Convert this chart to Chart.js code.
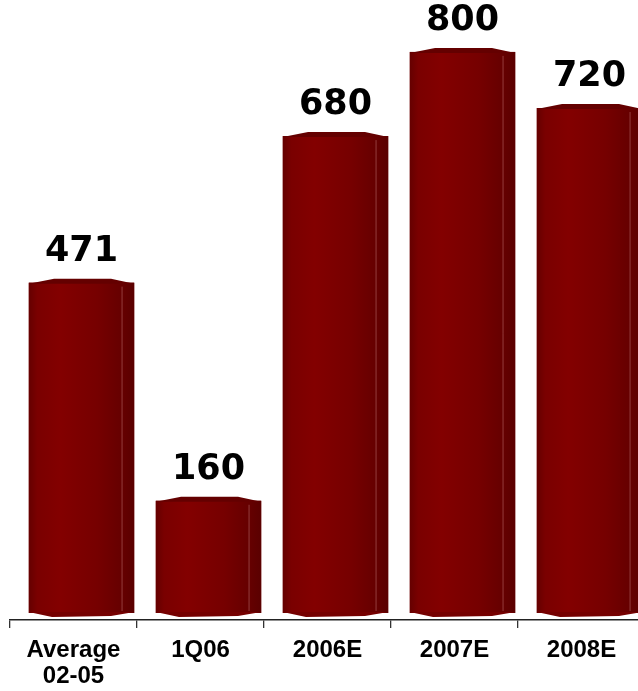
<!DOCTYPE html>
<html>
<head>
<meta charset="utf-8">
<script src="https://cdn.jsdelivr.net/npm/chart.js@4"></script>
<style>
  html, body { margin: 0; padding: 0; background: #fff; overflow: hidden; }
  #wrap { position: relative; width: 648px; height: 691px; }
</style>
</head>
<body>
<div id="wrap"><canvas id="barChart"></canvas></div>
<script>
// chart data
const categories = [["Average", "02-05"], "1Q06", "2006E", "2007E", "2008E"];
const values = [471, 160, 680, 800, 720];

const barShift = 8; // bars sit a bit right of the category centre in the original

// cylinder-ish shading + value labels on top of each bar
const cylinderBars = {
    id: "cylinderBars",
    beforeDatasetsDraw(chart) {
        chart.ctx.save();
        chart.ctx.translate(barShift, 0);
    },
    afterDatasetsDraw(chart) {
        const ctx = chart.ctx;
        const meta = chart.getDatasetMeta(0);
        meta.data.forEach((bar, i) => {
            const left = bar.x - bar.width / 2;
            const right = bar.x + bar.width / 2;
            const w = bar.width;

            // body shading
            const grad = ctx.createLinearGradient(left, 0, right, 0);
            grad.addColorStop(0, "#650000");
            grad.addColorStop(0.08, "#7a0000");
            grad.addColorStop(0.3, "#830000");
            grad.addColorStop(0.65, "#760000");
            grad.addColorStop(0.88, "#660000");
            grad.addColorStop(1, "#5a0000");
            ctx.fillStyle = grad;
            ctx.fillRect(left, bar.y, w, bar.base - bar.y);

            // bottom bulge
            ctx.beginPath();
            ctx.moveTo(left, bar.base - 1);
            ctx.lineTo(right, bar.base - 1);
            ctx.lineTo(right - w * 0.22, bar.base + 3);
            ctx.lineTo(left + w * 0.22, bar.base + 4);
            ctx.closePath();
            ctx.fillStyle = "#750000";
            ctx.fill();

            // top cap
            ctx.beginPath();
            ctx.moveTo(left, bar.y + 1);
            ctx.lineTo(left + w * 0.24, bar.y - 4);
            ctx.lineTo(right - w * 0.22, bar.y - 4);
            ctx.lineTo(right, bar.y + 1);
            ctx.closePath();
            ctx.fillStyle = "#640000";
            ctx.fill();

            // thin light edge near the right side
            ctx.strokeStyle = "rgba(255,200,200,0.3)";
            ctx.lineWidth = 1;
            ctx.beginPath();
            ctx.moveTo(right - w * 0.12 + 0.5, bar.y + 4);
            ctx.lineTo(right - w * 0.12 + 0.5, bar.base - 2);
            ctx.stroke();

            // value label
            ctx.fillStyle = "#000";
            ctx.font = "bold 35px 'DejaVu Sans', Verdana, sans-serif";
            ctx.textAlign = "center";
            ctx.textBaseline = "alphabetic";
            ctx.fillText(String(values[i]), bar.x, bar.y - 22);
        });
        ctx.restore();
    }
};

new Chart(document.getElementById("barChart"), {
    type: "bar",
    data: {
        labels: categories,
        datasets: [{
            data: values,
            backgroundColor: "#780000",
            borderWidth: 0,
            categoryPercentage: 1,
            barPercentage: 0.83
        }]
    },
    options: {
        responsive: true,
        maintainAspectRatio: false,
        animation: false,
        layout: { padding: { left: 10, right: 3, top: 0, bottom: 0 } },
        plugins: {
            legend: { display: false },
            tooltip: { enabled: false }
        },
        scales: {
            y: {
                display: false,
                min: -10,
                max: 874
            },
            x: {
                offset: true,
                afterFit: scale => { scale.height = 71; },
                border: { display: true, color: "#222", width: 1.5 },
                grid: {
                    display: true,
                    offset: true,
                    drawOnChartArea: false,
                    drawTicks: true,
                    tickLength: 8,
                    color: "#333",
                    lineWidth: 1.3
                },
                ticks: {
                    color: "#000",
                    padding: 9,
                    maxRotation: 0,
                    autoSkip: false,
                    font: { family: "'Liberation Sans', Arial, sans-serif", size: 24, weight: "bold", lineHeight: 1.1 }
                }
            }
        }
    },
    plugins: [cylinderBars]
});
</script>
</body>
</html>
